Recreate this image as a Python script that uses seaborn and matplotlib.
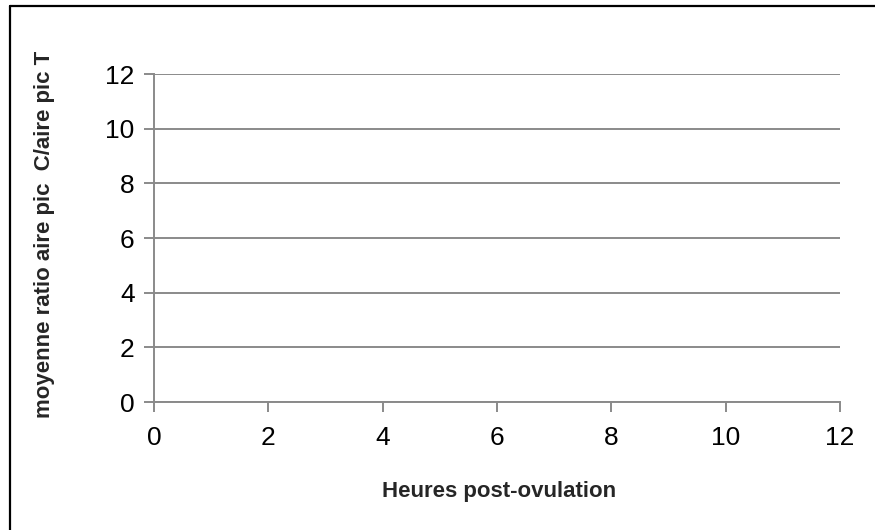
import matplotlib

matplotlib.use("Agg")
import matplotlib.pyplot as plt
from matplotlib.lines import Line2D
import seaborn as sns

# chart data (the series is empty in the reference)
heures = []
ratio = []
x_ticks = [0, 2, 4, 6, 8, 10, 12]
y_ticks = [0, 2, 4, 6, 8, 10, 12]

sns.set_theme(style="white")
plt.rcParams["font.family"] = ["Liberation Sans", "DejaVu Sans"]

W, H = 875, 530
fig = plt.figure(figsize=(W / 100, H / 100), dpi=100)
ax = fig.add_axes([154 / W, 1 - 402 / H, (840 - 154) / W, (402 - 74) / H])

sns.scatterplot(x=heures, y=ratio, ax=ax)

gray = "#8a8a8a"
ax.set_xlim(0, 12)
ax.set_ylim(0, 12)
ax.set_xticks(x_ticks)
ax.set_yticks(y_ticks)
ax.grid(axis="y", color=gray, linewidth=1.4)
ax.grid(axis="x", visible=False)
for side in ["top", "right"]:
    ax.spines[side].set_visible(False)
for side in ["left", "bottom"]:
    ax.spines[side].set_color(gray)
    ax.spines[side].set_linewidth(1.4)
ax.tick_params(axis="both", direction="out", length=7, width=1.4, color=gray,
               labelsize=19, labelcolor="black")
ax.tick_params(axis="x", bottom=True, pad=10)
ax.tick_params(axis="y", left=True, pad=7)

ax.set_xlabel("Heures post-ovulation", fontsize=16, fontweight="bold", va="baseline")
ax.xaxis.set_label_coords((499 - 154) / 686, (402 - 497) / 328)
ax.set_ylabel("moyenne ratio aire pic  C/aire pic T", fontsize=16, fontweight="bold", va="baseline")
ax.yaxis.set_label_coords((50 - 154) / 686, (402 - 234) / 328)

# outer frame (only left and top edges are inside the picture)
fig.add_artist(Line2D([10 / W, 10 / W], [0, 1 - 6 / H], color="black", linewidth=1.6))
fig.add_artist(Line2D([10 / W, 1], [1 - 6 / H, 1 - 6 / H], color="black", linewidth=1.6))

fig.savefig("out.png", dpi=100)
